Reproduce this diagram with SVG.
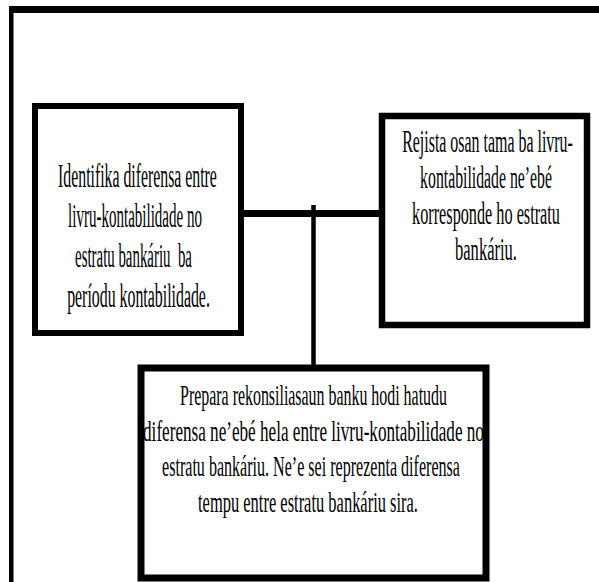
<svg xmlns="http://www.w3.org/2000/svg" width="599" height="582" viewBox="0 0 599 582">
<style>
.box{fill:#fff;stroke:#000;}
.t{font-family:"Liberation Serif","Times New Roman",serif;fill:#000;text-anchor:middle;}
.l{font-size:33px;}
.r{font-size:31px;}
.b{font-size:29px;}
.c{stroke:#000;fill:none;}
</style>
<rect width="599" height="582" fill="#fff"/>
<g id="frame">
<rect x="9" y="6" width="590" height="7" fill="#000"/>
<rect x="9" y="6" width="4.5" height="576" fill="#000"/>
</g>
<g id="connectors">
<line class="c" x1="241" y1="213.5" x2="383" y2="213.5" stroke-width="7"/>
<line class="c" x1="313.5" y1="205" x2="313.5" y2="366" stroke-width="4.5"/>
</g>
<g id="node-identifika">
<rect class="box" x="35" y="106" width="206" height="227" stroke-width="6"/>
<text class="t l" transform="translate(137.5 187) scale(0.479 1)">Identifika diferensa entre</text>
<text class="t l" transform="translate(135 227) scale(0.455 1)">livru-kontabilidade no</text>
<text class="t l" transform="translate(133.5 267) scale(0.451 1)" xml:space="preserve">estratu bankáriu  ba</text>
<text class="t l" transform="translate(138.5 307) scale(0.481 1)">períodu kontabilidade.</text>
</g>
<g id="node-rejista">
<rect class="box" x="382" y="116" width="205" height="209" stroke-width="6.5"/>
<text class="t r" transform="translate(487.5 152) scale(0.514 1)">Rejista osan tama ba livru-</text>
<text class="t r" transform="translate(486 188) scale(0.509 1)">kontabilidade ne’ebé</text>
<text class="t r" transform="translate(486 224) scale(0.524 1)">korresponde ho estratu</text>
<text class="t r" transform="translate(486 260) scale(0.534 1)">bankáriu.</text>
</g>
<g id="node-prepara">
<rect class="box" x="141" y="368" width="345" height="210" stroke-width="7"/>
<text class="t b" transform="translate(313.5 405) scale(0.549 1)">Prepara rekonsiliasaun banku hodi hatudu</text>
<text class="t b" transform="translate(313.5 440.5) scale(0.591 1)">diferensa ne’ebé hela entre livru-kontabilidade no</text>
<text class="t b" transform="translate(311 476) scale(0.554 1)">estratu bankáriu. Ne’e sei reprezenta diferensa</text>
<text class="t b" transform="translate(308 511.5) scale(0.568 1)">tempu entre estratu bankáriu sira.</text>
</g>
</svg>
